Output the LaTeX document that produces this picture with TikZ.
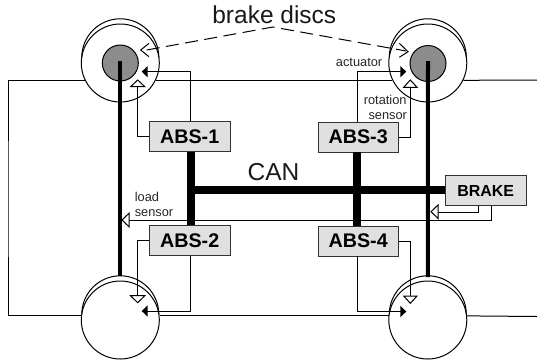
\documentclass[tikz,border=0pt]{standalone}
\usepackage{fontspec}
\setmainfont{Liberation Sans}
\tikzset{
  wheelc/.style={circle,draw=black,line width=1pt,inner sep=0pt,minimum size=78pt},
  hubc/.style={circle,draw=black,line width=1pt,fill=black!45,inner sep=0pt,minimum size=36pt},
  absbox/.style={draw=black!80,line width=0.8pt,fill=black!12,inner sep=0pt,minimum width=80.5pt,minimum height=30pt,
    font=\fontsize{19.7}{20}\selectfont\bfseries},
  thinlabel/.style={inner sep=0pt,font=\fontsize{12.8}{14}\selectfont,text=black!85},
  biglabel/.style={inner sep=0pt,font=\fontsize{24.5}{26}\selectfont,text=black!90},
  bus/.style={black,line width=8pt},
  axle/.style={black,line width=4pt}
}
\begin{document}
\begin{tikzpicture}[x=1pt,y=1pt,line width=1pt]
  \useasboundingbox (0,0) rectangle (537,-362);
  % wheels
  \node [wheelc] (wheel1) at (120.3,-63) {};
  \node [wheelc] (wheel2) at (120.3,-320) {};
  \node [wheelc] (wheel3) at (427.8,-63) {};
  \node [wheelc] (wheel4) at (427.8,-320) {};
  \draw [black] (81.8,-57.3) arc (180:0:38.5);
  \draw [black] (81.8,-314.3) arc (180:0:38.5);
  \draw [black] (389.3,-57.3) arc (180:0:38.5);
  \draw [black] (389.3,-314.3) arc (180:0:38.5);
  \node [hubc] (hub1) at (120.3,-63) {};
  \node [hubc] (hub3) at (428,-63.5) {};
  % chassis
  \coordinate (frameL) at (8,-200);
  \coordinate (frameTR) at (537,-80);
  \coordinate (frameBR) at (537,-316.5);
  \draw [black] (wheel1.206) -| (frameL) |- (wheel2.174);
  \draw [black] (wheel1.-26) -- (wheel3.206);
  \draw [black] (wheel2.6) -- (wheel4.174);
  \draw [black] (wheel3.-26) -- (frameTR);
  \draw [black] (wheel4.6) -- (frameBR);
  % boxes
  \node [absbox] (abs1) at (189.7,-136.7) {ABS-1};
  \node [absbox] (abs2) at (189.7,-240.7) {ABS-2};
  \node [absbox] (abs3) at (358.2,-137) {ABS-3};
  \node [absbox] (abs4) at (358.2,-241) {ABS-4};
  \node [absbox,font=\fontsize{16}{18}\selectfont\bfseries] (brake) at (485.7,-190.7) {BRAKE};
  % valves
  \coordinate (act1) at (147,-71.7);
  \coordinate (act2) at (147,-311);
  \coordinate (act3) at (401,-71.7);
  \coordinate (act4) at (401,-311.5);
  \coordinate (rot1) at (137.7,-86.7);
  \coordinate (rot2) at (137.7,-295.7);
  \coordinate (rot3) at (410.3,-87.3);
  \coordinate (rot4) at (410.3,-296);
  \coordinate (load1) at (129,-220);
  \coordinate (load2) at (438,-212.3);
  \draw [black] ([xshift=1pt]abs1.north) |- (act1);
  \fill [black] (141.7,-71.7) -- (147.7,-66) -- (147.7,-77.4);
  \draw [black] ([xshift=1pt]abs2.south) |- (act2);
  \fill [black] (141.7,-311) -- (147.7,-305.3) -- (147.7,-316.7);
  \draw [black] ([xshift=-1.2pt]abs3.north) |- (act3);
  \fill [black] (406.3,-71.7) -- (400.3,-66) -- (400.3,-77.4);
  \draw [black] ([xshift=-1.2pt]abs4.south) |- (act4);
  \fill [black] (406.3,-311.5) -- (400.3,-305.8) -- (400.3,-317.2);
  \draw [black] (abs1.west) -| (rot1);
  \draw [black] (130.6,-86.7) -- (137.7,-80) -- (144.8,-86.7) -- cycle;
  \draw [black] (abs2.west) -| (rot2);
  \draw [black] (130.6,-295.7) -- (137.7,-302.7) -- (144.8,-295.7) -- cycle;
  \draw [black] (abs3.east) -| (rot3);
  \draw [black] (403.7,-87.3) -- (410.3,-80) -- (417,-87.3) -- cycle;
  \draw [black] (abs4.east) -| (rot4);
  \draw [black] (403.7,-296) -- (410.3,-303.3) -- (417,-296) -- cycle;
  \draw [black] ([xshift=5.3pt]brake.south) |- (load1);
  % bus lines
  \draw [axle] (120.3,-61) -- (wheel2.north |- 0,-276);
  \draw [axle] (428,-61) -- (wheel4.north |- 0,-277);
  \draw [bus] ([xshift=1pt]abs1.south) -- ([xshift=1pt]abs2.north);
  \draw [bus] ([xshift=-1.2pt]abs3.south) -- ([xshift=-1.2pt]abs4.north);
  \draw [bus] (187,-190) -- (brake.west |- 0,-190);
  \draw [black] ([xshift=-7pt]brake.south) |- (load2);
  \draw [black,fill=white] (438,-205) -- (431,-211.7) -- (438,-218.4) -- cycle;
  \draw [black,fill=white] (129,-213.3) -- (122,-220) -- (129,-226.7) -- cycle;
  % brake discs
  \coordinate (discL) at (146.7,-50);
  \coordinate (discR) at (406,-51);
  \coordinate (discTop) at (273,-27);
  \draw [black,dash pattern=on 13pt off 6.5pt] (discL) -- (discTop) -- (discR);
  \draw [black] (149,-43.3) -- (140.7,-50) -- (149,-56.7);
  \draw [black] (399.3,-43.3) -- (408,-51.7) -- (399.3,-57.3);
  % labels
  \node [biglabel,anchor=base] (discs) at (274.3,-23.5) {brake discs};
  \node [biglabel,anchor=base] (can) at (273.5,-180.5) {CAN};
  \node [thinlabel,anchor=base east] (actuator) at (382.7,-66.5) {actuator};
  \node [thinlabel,anchor=base east] (rotation) at (407,-104.5) {rotation};
  \node [thinlabel,anchor=base east] (sensor3) at (407.5,-119.5) {sensor};
  \node [thinlabel,anchor=base west] (load) at (134.3,-201) {load};
  \node [thinlabel,anchor=base west] (sensor2) at (134.3,-216.5) {sensor};
\end{tikzpicture}
\end{document}
